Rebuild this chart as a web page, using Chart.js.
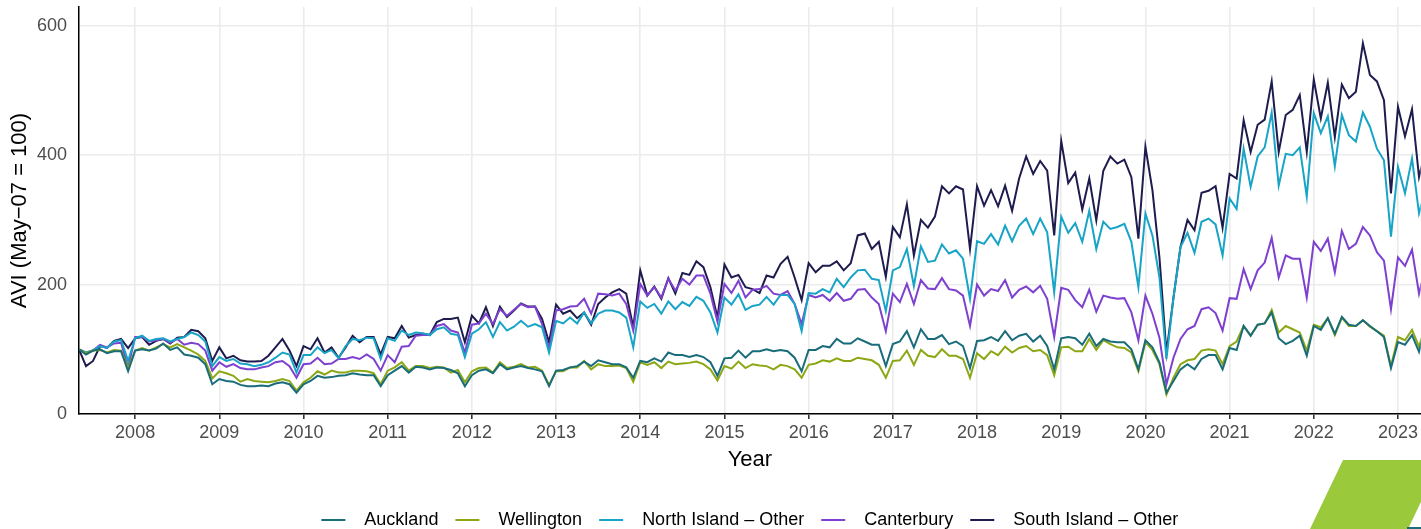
<!DOCTYPE html>
<html lang="en">
<head>
<meta charset="UTF-8">
<title>AVI by region</title>
<script src="https://cdn.jsdelivr.net/npm/chart.js"></script>
<style>
    html, body { margin: 0; padding: 0; background: #fff; }
    #wrap { position: relative; width: 1421px; height: 529px; overflow: hidden; }
    #avi { display: block; }
    .flag {
        position: absolute; left: 1310px; top: 460px; width: 131px; height: 69px;
        background: #9aca3c;
        clip-path: polygon(33px 0, 131px 0, 98px 69px, 0 69px);
    }
    .flag-edge { position: absolute; left: 1407px; top: 527px; width: 14px; height: 2px; background: #1d6a78; }
</style>
</head>
<body>
<div id="wrap">
    <canvas id="avi" width="1421" height="529"></canvas>
    <div class="flag"></div>
    <div class="flag-edge"></div>
</div>
<script>
    // monthly series, May 2007 .. May 2023
    const startYear = 2007;
    const startMonth = 5;
    const yearTicks = [2008, 2009, 2010, 2011, 2012, 2013, 2014, 2015, 2016, 2017, 2018, 2019, 2020, 2021, 2022, 2023];
    const yTicks = [0, 200, 400, 600];

    const auckland = [
        100, 92, 98, 100, 94, 97, 97, 66,
        98, 100, 98, 101, 109, 99, 103, 92, 90, 87, 77, 46,
        54, 51, 50, 45, 43, 43, 44, 43, 47, 49, 46, 33,
        46, 51, 59, 56, 57, 59, 60, 63, 61, 60, 60, 43,
        60, 67, 74, 64, 73, 72, 69, 72, 71, 68, 63, 43,
        60, 67, 69, 63, 77, 69, 72, 74, 71, 69, 66, 43,
        67, 68, 72, 74, 81, 74, 83, 80, 77, 77, 72, 56,
        82, 80, 86, 81, 95, 91, 91, 88, 91, 88, 80, 59,
        86, 87, 98, 87, 97, 97, 100, 97, 99, 97, 87, 66,
        99, 99, 105, 103, 116, 109, 109, 117, 112, 107, 107, 74,
        108, 112, 128, 103, 131, 116, 116, 122, 108, 112, 105, 71,
        113, 114, 119, 113, 128, 114, 121, 124, 112, 121, 105, 69,
        117, 119, 117, 107, 124, 105, 116, 112, 111, 111, 100, 69,
        114, 103, 80, 33, 51, 69, 77, 69, 85, 91, 91, 69,
        102, 99, 136, 121, 138, 140, 157, 117, 108, 113, 121, 90,
        136, 130, 148, 124, 150, 138, 136, 145, 136, 128, 119, 71,
        111, 107, 122, 96, 140
    ];
    const wellington = [
        100, 94, 98, 99, 95, 99, 98, 71,
        98, 102, 98, 103, 108, 103, 108, 103, 98, 92, 82, 55,
        66, 63, 59, 50, 54, 51, 50, 49, 51, 54, 51, 36,
        49, 56, 66, 61, 67, 64, 64, 67, 67, 66, 63, 46,
        67, 72, 80, 67, 74, 74, 71, 73, 72, 64, 68, 49,
        66, 71, 72, 64, 80, 71, 73, 77, 72, 73, 67, 45,
        66, 66, 72, 72, 82, 69, 77, 74, 74, 75, 71, 50,
        80, 76, 80, 71, 81, 77, 78, 79, 81, 77, 69, 52,
        74, 70, 81, 71, 77, 75, 74, 69, 76, 74, 69, 56,
        76, 78, 83, 81, 86, 82, 82, 87, 85, 83, 76, 56,
        82, 83, 98, 76, 99, 90, 88, 100, 90, 90, 85, 56,
        94, 85, 97, 91, 104, 95, 102, 105, 97, 99, 91, 60,
        103, 104, 97, 97, 116, 99, 114, 108, 103, 102, 95, 66,
        111, 99, 77, 30, 56, 77, 83, 85, 98, 100, 98, 77,
        105, 112, 136, 121, 138, 140, 161, 126, 136, 131, 126, 98,
        138, 134, 148, 122, 149, 136, 136, 145, 135, 128, 121, 74,
        119, 114, 130, 104, 140
    ];
    const northOther = [
        100, 95, 98, 105, 102, 112, 114, 82,
        117, 121, 113, 116, 117, 112, 116, 119, 126, 122, 112, 74,
        88, 82, 85, 78, 77, 74, 76, 80, 87, 95, 92, 64,
        91, 91, 103, 94, 99, 86, 105, 116, 114, 118, 117, 85,
        117, 113, 129, 122, 126, 125, 122, 131, 134, 124, 122, 88,
        124, 131, 142, 119, 142, 129, 135, 144, 135, 139, 134, 95,
        144, 140, 149, 140, 157, 140, 155, 160, 160, 157, 149, 103,
        174, 164, 170, 155, 174, 162, 173, 167, 181, 175, 157, 126,
        180, 169, 185, 161, 167, 169, 181, 169, 184, 184, 170, 128,
        187, 186, 193, 188, 209, 196, 211, 222, 223, 209, 207, 159,
        222, 227, 255, 198, 259, 235, 237, 262, 248, 253, 240, 178,
        267, 263, 278, 262, 291, 267, 291, 302, 278, 302, 281, 188,
        305, 280, 295, 266, 314, 255, 297, 286, 289, 294, 266, 196,
        310, 276, 211, 85, 180, 258, 280, 249, 297, 302, 293, 245,
        333, 317, 410, 351, 398, 412, 466, 353, 402, 400, 412, 336,
        465, 434, 460, 383, 462, 431, 421, 466, 444, 410, 392, 274,
        382, 341, 395, 310, 350
    ];
    const canterbury = [
        100, 95, 98, 107, 103, 109, 110, 72,
        119, 119, 112, 114, 116, 110, 116, 107, 110, 108, 98, 67,
        80, 73, 77, 71, 69, 69, 72, 74, 80, 82, 74, 56,
        77, 78, 87, 77, 78, 85, 85, 88, 85, 92, 85, 67,
        91, 80, 104, 105, 121, 122, 122, 136, 139, 129, 126, 95,
        138, 140, 155, 139, 162, 152, 161, 170, 165, 166, 139, 100,
        160, 162, 166, 167, 178, 155, 186, 185, 183, 186, 170, 129,
        201, 183, 196, 180, 209, 191, 209, 200, 214, 214, 186, 143,
        201, 187, 206, 180, 192, 193, 198, 186, 184, 190, 170, 139,
        184, 180, 184, 175, 187, 175, 178, 192, 193, 180, 170, 128,
        186, 173, 201, 170, 207, 194, 193, 210, 193, 191, 183, 136,
        200, 183, 193, 190, 207, 180, 192, 197, 188, 198, 178, 119,
        195, 192, 176, 165, 192, 158, 183, 180, 178, 179, 157, 114,
        183, 155, 118, 46, 87, 116, 131, 136, 162, 165, 156, 129,
        179, 178, 224, 193, 222, 234, 272, 211, 245, 240, 240, 180,
        266, 252, 271, 219, 283, 255, 263, 289, 276, 250, 237, 162,
        242, 229, 254, 186, 230
    ];
    const southOther = [
        100, 74, 82, 105, 102, 113, 116, 102,
        117, 119, 107, 113, 116, 109, 118, 119, 130, 128, 117, 82,
        103, 86, 90, 83, 81, 81, 82, 90, 103, 116, 98, 74,
        105, 100, 117, 95, 103, 87, 103, 121, 111, 119, 119, 92,
        119, 117, 136, 118, 122, 124, 122, 142, 147, 147, 149, 111,
        152, 140, 165, 136, 166, 150, 160, 171, 166, 166, 147, 111,
        169, 155, 160, 148, 157, 138, 170, 180, 188, 193, 186, 134,
        222, 183, 197, 178, 210, 186, 218, 215, 236, 227, 196, 149,
        231, 211, 215, 196, 193, 187, 214, 211, 232, 243, 211, 176,
        233, 219, 229, 229, 236, 222, 233, 276, 279, 255, 266, 212,
        289, 273, 324, 245, 300, 288, 305, 352, 341, 352, 347, 255,
        352, 322, 346, 321, 353, 314, 364, 398, 371, 391, 376, 276,
        422, 357, 373, 316, 364, 299, 376, 398, 387, 393, 366, 271,
        413, 346, 242, 95, 180, 258, 300, 284, 342, 345, 352, 288,
        371, 364, 454, 405, 447, 455, 514, 405, 462, 470, 493, 405,
        517, 457, 512, 428, 509, 488, 498, 573, 524, 514, 485, 341,
        475, 429, 471, 366, 410
    ];

    const xOf = i => startYear + (startMonth - 1 + i) / 12;
    const toPoints = arr => arr.map((v, i) => ({x: xOf(i), y: v}));

    function series(label, values, color) {
        return {
            label: label,
            data: toPoints(values),
            borderColor: color,
            backgroundColor: color,
            borderWidth: 2,
            pointRadius: 0,
            tension: 0,
            fill: false
        };
    }

    Chart.defaults.font.family = '"Liberation Sans", Arial, sans-serif';

    const ctx = document.getElementById('avi').getContext('2d');
    new Chart(ctx, {
        type: 'line',
        data: {
            datasets: [
                series('Auckland', auckland, '#196c7a'),
                series('Wellington', wellington, '#8ba814'),
                series('North Island – Other', northOther, '#18a4c6'),
                series('Canterbury', canterbury, '#7d40cf'),
                series('South Island – Other', southOther, '#1e1c4e')
            ]
        },
        options: {
            responsive: false,
            animation: false,
            layout: { padding: { left: 3, right: 0, top: 7, bottom: -10 } },
            plugins: {
                tooltip: { enabled: false },
                legend: {
                    position: 'bottom',
                    fullSize: false,
                    labels: {
                        boxWidth: 24,
                        boxHeight: 2,
                        padding: 17,
                        color: '#000',
                        font: { size: 18 },
                        generateLabels: chart => Chart.defaults.plugins.legend.labels.generateLabels(chart)
                            .map(item => Object.assign(item, { text: '  ' + item.text, lineWidth: 0 }))
                    }
                }
            },
            scales: {
                x: {
                    type: 'linear',
                    min: xOf(0),
                    max: 2023.27,
                    afterBuildTicks: axis => { axis.ticks = yearTicks.map(v => ({ value: v })); },
                    ticks: {
                        color: '#4d4d4d',
                        font: { size: 18 },
                        padding: 3,
                        maxRotation: 0,
                        autoSkip: false,
                        callback: v => String(v)
                    },
                    grid: { color: '#ebebeb', lineWidth: 1.6, tickColor: '#333', tickLength: 5 },
                    border: { color: '#000', width: 1.5 },
                    title: {
                        display: true,
                        text: 'Year',
                        color: '#000',
                        font: { size: 22 },
                        padding: { top: 0, bottom: 21 }
                    }
                },
                y: {
                    min: 0,
                    max: 629,
                    afterBuildTicks: axis => { axis.ticks = yTicks.map(v => ({ value: v })); },
                    afterFit: axis => {
                        axis.width = 76;
                        axis.paddingTop = 0;
                        axis.paddingBottom = 0;
                    },
                    ticks: { color: '#4d4d4d', font: { size: 18 }, padding: 12 },
                    grid: { color: '#ebebeb', lineWidth: 1.6, drawTicks: false },
                    border: { color: '#000', width: 1.5 },
                    title: {
                        display: true,
                        text: 'AVI (May−07 = 100)',
                        color: '#000',
                        font: { size: 22 },
                        padding: { top: 4, bottom: 4 }
                    }
                }
            }
        }
    });
</script>
</body>
</html>
